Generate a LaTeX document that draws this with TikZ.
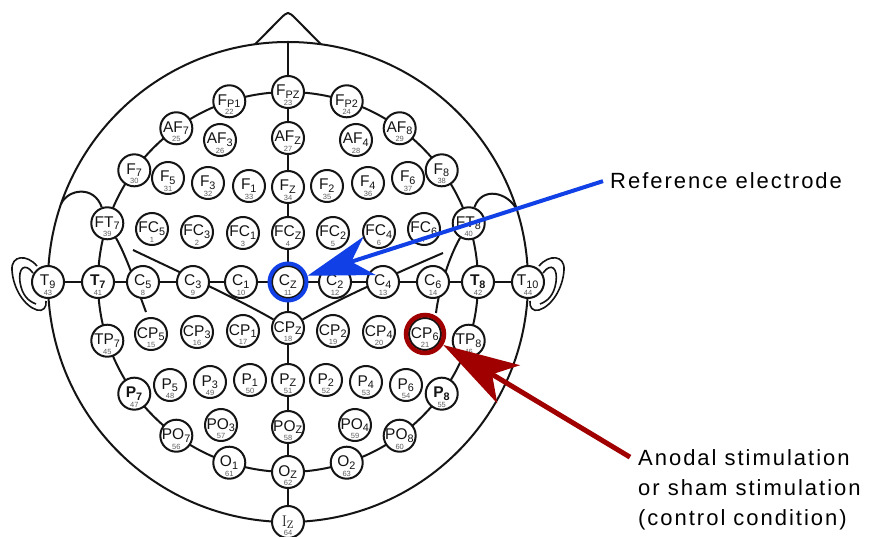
\documentclass[tikz,border=0pt]{standalone}
\usepackage{fontspec}
\setsansfont{Liberation Sans}
\newfontfamily\annfont[LetterSpace=9]{Liberation Sans}
\usetikzlibrary{arrows.meta,calc,backgrounds}
\definecolor{refblue}{RGB}{16,64,230}
\definecolor{anodred}{RGB}{160,0,0}
\definecolor{numgray}{RGB}{95,95,95}
\definecolor{inkblack}{RGB}{20,20,20}
\newcommand\elab[3]{\makebox[0pt]{\raisebox{-4pt}{#1\textsubscript{#2}}}\makebox[0pt]{\raisebox{-13.5pt}{\color{numgray}\fontsize{7.5}{7.5}\selectfont #3}}}
\newcommand\electrode[5]{\node[elec] (#1) at (#2) {\elab{#3}{#4}{#5}};}
\tikzset{
  elec/.style={circle, draw=inkblack, line width=2pt, fill=white, minimum size=32pt, inner sep=0pt,
    text height=0pt, text depth=0pt, font=\sffamily\fontsize{15.5}{15.5}\selectfont, text=inkblack},
  wire/.style={draw=inkblack, line width=2pt},
  earline/.style={draw=inkblack, line width=1.6pt},
  anntext/.style={inner sep=0pt, font=\annfont\fontsize{22}{26}\selectfont, text=black},
  refring/.style={circle, draw=refblue, line width=4pt, minimum size=37pt, inner sep=0pt},
  anodring/.style={circle, draw=anodred, line width=4.5pt, minimum size=38pt, inner sep=0pt},
  bluearrow/.style={draw=refblue, line width=4pt, -{Stealth[length=65pt,width=40pt,inset=19pt]}},
  redarrow/.style={draw=anodred, line width=5pt, -{Stealth[length=76pt,width=44pt,inset=19pt]}}
}
\begin{document}
\begin{tikzpicture}[x=1pt,y=-1pt]
\useasboundingbox (0,0) rectangle (875,537);
\coordinate (head) at (288,282);
\coordinate (ntop) at ($(head)+(-90:240)$);
\coordinate (nosel) at ($(head)+(-97.9:240)$);
\coordinate (noser) at ($(head)+(-82.1:240)$);
\coordinate (lhump) at ($(head)+(-161:240)$);
\coordinate (rhump) at ($(head)+(-17.5:240)$);
\coordinate (lcend) at (146,312);
\coordinate (rcend) at (436,313);
\coordinate (lvs) at (133,250);
\coordinate (rve) at (443,253);

% inner circle electrodes
\electrode{Fpz}{$(head)+(-90:190)$}{F}{PZ}{23}
\electrode{Fp1}{$(head)+(-108:190)$}{F}{P1}{22}
\electrode{AF7}{$(head)+(-126:190)$}{AF}{7}{25}
\electrode{F7}{$(head)+(-144:190)$}{F}{7}{30}
\electrode{FT7}{$(head)+(-162:190)$}{FT}{7}{39}
\electrode{T7}{$(head)+(180:190)$}{\bfseries T}{\bfseries 7}{41}
\electrode{TP7}{$(head)+(162:190)$}{TP}{7}{45}
\electrode{P7}{$(head)+(144:190)$}{\bfseries P}{\bfseries 7}{47}
\electrode{PO7}{$(head)+(126:190)$}{PO}{7}{56}
\electrode{O1}{$(head)+(108:190)$}{O}{1}{61}
\electrode{Oz}{$(head)+(90:190)$}{O}{Z}{62}
\electrode{O2}{$(head)+(72:190)$}{O}{2}{63}
\electrode{PO8}{$(head)+(54:190)$}{PO}{8}{60}
\electrode{P8}{$(head)+(36:190)$}{\bfseries P}{\bfseries 8}{55}
\electrode{TP8}{$(head)+(18:190)$}{TP}{8}{46}
\electrode{T8}{$(head)+(0:190)$}{\bfseries T}{\bfseries 8}{42}
\electrode{FT8}{$(head)+(-18:190)$}{FT}{8}{40}
\electrode{F8}{$(head)+(-36:190)$}{F}{8}{38}
\electrode{AF8}{$(head)+(-54:190)$}{AF}{8}{29}
\electrode{Fp2}{$(head)+(-72:190)$}{F}{P2}{24}
% outer circle electrodes
\electrode{T9}{$(head)+(180:240)$}{T}{9}{43}
\electrode{T10}{$(head)+(0:240)$}{T}{10}{44}
\electrode{Iz}{$(head)+(90:240)$}{\rmfamily I}{Z}{64}
% others
\electrode{AF3}{220,140}{AF}{3}{26}
\electrode{AFz}{288,138}{AF}{Z}{27}
\electrode{AF4}{356,140}{AF}{4}{28}
\electrode{F5}{168,178}{F}{5}{31}
\electrode{F3}{208,183}{F}{3}{32}
\electrode{F1}{249,186}{F}{1}{33}
\electrode{Fz}{288,187}{F}{Z}{34}
\electrode{F2}{327,186}{F}{2}{35}
\electrode{F4}{368,183}{F}{4}{36}
\electrode{F6}{408,178}{F}{6}{37}
\electrode{FC5}{152,229}{FC}{5}{1}
\electrode{FC3}{197,232}{FC}{3}{2}
\electrode{FC1}{243,233}{FC}{1}{3}
\electrode{FCz}{288,233}{FC}{Z}{4}
\electrode{FC2}{333,233}{FC}{2}{5}
\electrode{FC4}{379,232}{FC}{4}{6}
\electrode{FC6}{424,229}{FC}{6}{7}
\electrode{C5}{143,282}{C}{5}{8}
\electrode{C3}{193,282}{C}{3}{9}
\electrode{C1}{241,282}{C}{1}{10}
\electrode{Cz}{288,282}{C}{Z}{11}
\electrode{C2}{335,282}{C}{2}{12}
\electrode{C4}{383,282}{C}{4}{13}
\electrode{C6}{433,282}{C}{6}{14}
\electrode{CP5}{151,334}{CP}{5}{15}
\electrode{CP3}{197,332}{CP}{3}{16}
\electrode{CP1}{243,331}{CP}{1}{17}
\electrode{CPz}{288,328}{CP}{Z}{18}
\electrode{CP2}{333,331}{CP}{2}{19}
\electrode{CP4}{379,332}{CP}{4}{20}
\electrode{CP6}{425,334}{CP}{6}{21}
\electrode{P5}{170,385}{P}{5}{48}
\electrode{P3}{210,382}{P}{3}{49}
\electrode{P1}{250,380}{P}{1}{50}
\electrode{Pz}{288,380}{P}{Z}{51}
\electrode{P2}{326,380}{P}{2}{52}
\electrode{P4}{366,382}{P}{4}{53}
\electrode{P6}{406,385}{P}{6}{54}
\electrode{PO3}{221,425}{PO}{3}{57}
\electrode{POz}{288,427}{PO}{Z}{58}
\electrode{PO4}{355,425}{PO}{4}{59}

\begin{pgfonlayer}{background}
  \fill[white] (0,0) rectangle (875,537);
  \draw[wire] (head) circle[radius=240];
  \draw[wire] (head) circle[radius=190];
  \draw[wire, line join=round] (nosel) -- (280,19) .. controls (288,11) .. (296,19) -- (noser);
  \draw[wire] (ntop) -- (Fpz) -- (AFz) -- (Fz) -- (FCz) -- (Cz) -- (CPz) -- (Pz) -- (POz) -- (Oz) -- (Iz);
  \draw[wire] (T9) -- (T7) -- (C5) -- (C3) -- (C1) -- (Cz) -- (C2) -- (C4) -- (C6) -- (T8) -- (T10);
  \draw[wire] (lhump) .. controls (68,189) and (94,185) .. (FT7);
  \draw[wire] (rhump) .. controls (508,192) and (482,186) .. (FT8);
  \draw[wire] (FT7) .. controls (126,255) and (137,288) .. (lcend);
  \draw[wire] (FT8) .. controls (450,255) and (439,288) .. (rcend);
  \draw[wire] (lvs) .. controls (175,270) and (240,300) .. (CPz);
  \draw[wire] (rve) .. controls (401,271) and (336,300) .. (CPz);
  % ears
  \draw[earline] (37,266) .. controls (27,254) and (11,255) .. (12,270) .. controls (13,288) and (24,306) .. (37,310) .. controls (43,312) and (47,307) .. (46,301);
  \draw[earline] (33,273) .. controls (25,262) and (18,268) .. (20,282) .. controls (22,295) and (28,301) .. (36,304);
  \draw[earline] (539,266) .. controls (549,254) and (565,255) .. (564,270) .. controls (563,288) and (552,306) .. (539,310) .. controls (533,312) and (529,307) .. (530,301);
  \draw[earline] (543,273) .. controls (551,262) and (558,268) .. (556,282) .. controls (554,295) and (548,301) .. (540,304);
\end{pgfonlayer}

\node[refring] (czring) at (Cz) {};
\node[anodring] (cpring) at (CP6) {};

\node[anntext, anchor=base west] (ref) at (610,189) {Reference electrode};
\node[anntext, anchor=base west] (anod1) at (638,465) {Anodal stimulation};
\node[anntext, anchor=base west] (anod2) at (638,495) {or sham stimulation};
\node[anntext, anchor=base west] (anod3) at (638,525) {(control condition)};

\draw[bluearrow] ([xshift=-7pt]ref.west) -- (czring);
\draw[redarrow] ([xshift=-8pt]anod1.west) -- (cpring);
\end{tikzpicture}
\end{document}
